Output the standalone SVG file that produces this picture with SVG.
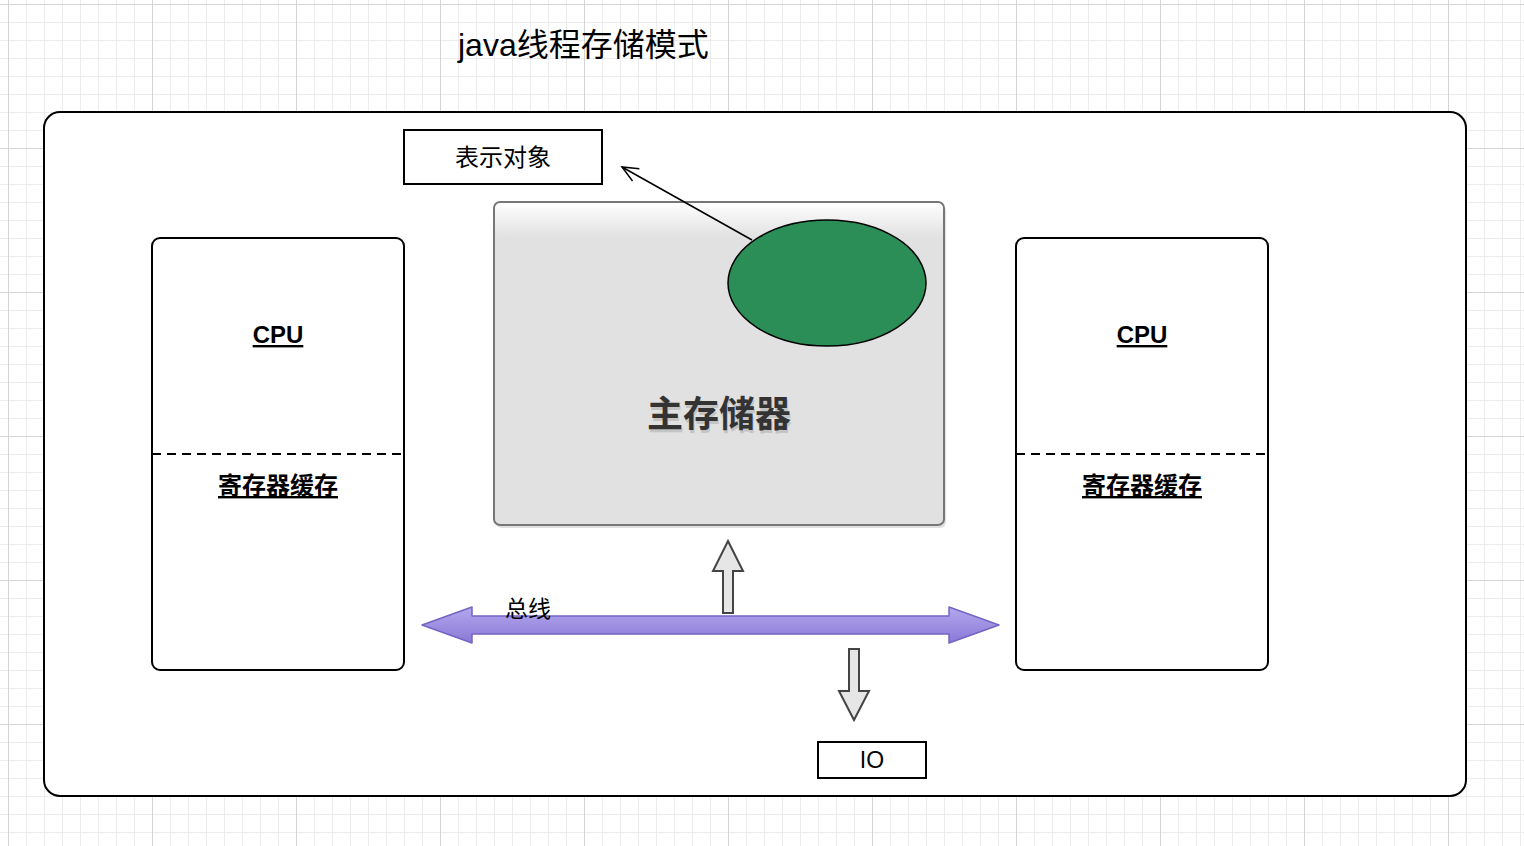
<svg xmlns="http://www.w3.org/2000/svg" width="1524" height="846" viewBox="0 0 1524 846">
<style>
.t{font-family:"Liberation Sans","Noto Sans CJK SC",sans-serif;fill:#000}
.box{fill:#fff;stroke:#000;stroke-width:2}
.bar{fill:#e6e6e6;stroke:#444;stroke-width:2;stroke-linejoin:miter}
.lbl{font-weight:bold;font-size:24px;text-anchor:middle;text-decoration:underline}
</style>
<defs>
<pattern id="minor" patternUnits="userSpaceOnUse" x="8" y="4" width="18" height="18">
<path d="M0.5 0V18M0 0.5H18" stroke="#ececec" stroke-width="1" fill="none"/>
</pattern>
<pattern id="major" patternUnits="userSpaceOnUse" x="8" y="4" width="144" height="144">
<path d="M0.5 0V144M0 0.5H144" stroke="#d4d4d4" stroke-width="1" fill="none"/>
</pattern>
<linearGradient id="memg" x1="0" y1="0" x2="0" y2="1">
<stop offset="0" stop-color="#ffffff"/>
<stop offset="0.11" stop-color="#e1e1e1"/>
<stop offset="1" stop-color="#e1e1e1"/>
</linearGradient>
<linearGradient id="busg" x1="0" y1="0" x2="0" y2="1">
<stop offset="0" stop-color="#b4a8ee"/>
<stop offset="1" stop-color="#8a78d6"/>
</linearGradient>
<marker id="open" markerWidth="20" markerHeight="20" refX="17" refY="8" orient="auto" markerUnits="userSpaceOnUse">
<path d="M1 1L17 8L1 15" fill="none" stroke="#000" stroke-width="1.5"/>
</marker>
</defs>
<rect width="1524" height="846" fill="#fff"/>
<rect width="1524" height="846" fill="url(#minor)"/>
<rect width="1524" height="846" fill="url(#major)"/>

<text class="t" x="458" y="56" font-size="32">java线程存储模式</text>

<g id="container">
<rect x="44" y="112" width="1422" height="684" rx="16" class="box"/>
</g>

<g id="repr">
<rect x="404" y="130" width="198" height="54" class="box"/>
<text class="t" x="503" y="166" font-size="24" text-anchor="middle">表示对象</text>
</g>

<g id="cpu-left">
<rect x="152" y="238" width="252" height="432" rx="8" class="box"/>
<line x1="152" y1="454" x2="404" y2="454" stroke="#000" stroke-width="2" stroke-dasharray="9 6"/>
<text class="t lbl" x="278" y="343">CPU</text>
<text class="t lbl" x="278" y="494">寄存器缓存</text>
</g>

<g id="cpu-right">
<rect x="1016" y="238" width="252" height="432" rx="8" class="box"/>
<line x1="1016" y1="454" x2="1268" y2="454" stroke="#000" stroke-width="2" stroke-dasharray="9 6"/>
<text class="t lbl" x="1142" y="343">CPU</text>
<text class="t lbl" x="1142" y="494">寄存器缓存</text>
</g>

<g id="memory">
<rect x="496" y="205" width="450" height="323" rx="6" fill="#000" opacity="0.12"/>
<rect x="494" y="202" width="450" height="323" rx="6" fill="url(#memg)" stroke="#777" stroke-width="2"/>
<text class="t" x="720" y="430" font-size="36" font-weight="bold" text-anchor="middle" style="fill:#c4c4c4">主存储器</text>
<text class="t" x="719" y="427" font-size="36" font-weight="bold" text-anchor="middle" style="fill:#333">主存储器</text>
</g>

<g id="object">
<ellipse cx="827" cy="283" rx="99" ry="63" fill="#2b8e56" stroke="#000" stroke-width="1.5"/>
</g>

<g id="io">
<rect x="818" y="742" width="108" height="36" class="box"/>
<text class="t" x="872" y="768" font-size="23" text-anchor="middle">IO</text>
</g>

<g id="connectors">
<line x1="752" y1="240" x2="622" y2="167" stroke="#000" stroke-width="1.5" marker-end="url(#open)"/>
<path d="M422 625L472 607V616H949V607L999 625L949 643V634H472V643Z" fill="url(#busg)" stroke="#7464c4" stroke-width="1.5" stroke-linejoin="round"/>
<path d="M728 541L743 571H733V613H723V571H713Z" class="bar"/>
<path d="M849 649H859V691H869L854 720L839 691H849Z" class="bar"/>
<text class="t" x="505" y="617" font-size="23">总线</text>
</g>
</svg>
